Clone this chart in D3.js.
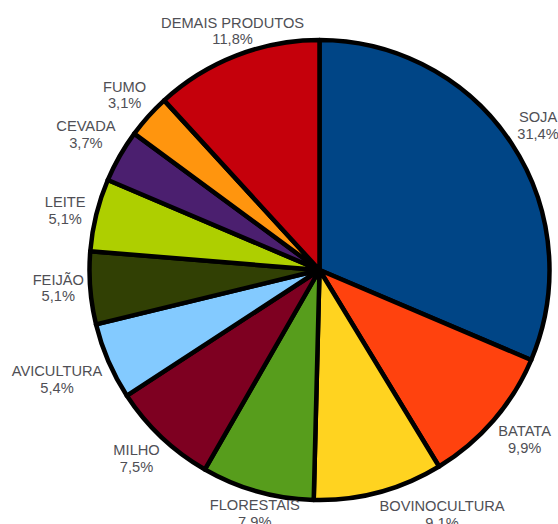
<!DOCTYPE html>
<html>
<head>
<meta charset="utf-8">
<script src="https://cdn.jsdelivr.net/npm/d3@7"></script>
<style>
  body { margin: 0; background: #fff; }
  svg { display: block; }
</style>
</head>
<body>
<div id="chart"></div>
<script>
// slices, clockwise from 12 o'clock
const categories = ['SOJA', 'BATATA', 'BOVINOCULTURA', 'FLORESTAIS', 'MILHO', 'AVICULTURA',
  'FEIJÃO', 'LEITE', 'CEVADA', 'FUMO', 'DEMAIS PRODUTOS'];
const shares = [31.4, 9.9, 9.1, 7.9, 7.5, 5.4, 5.1, 5.1, 3.7, 3.1, 11.8];
const colours = ['#004586', '#ff420e', '#ffd320', '#579d1c', '#7e0021', '#83caff',
  '#314004', '#aecf00', '#4b1f6f', '#ff950e', '#c5000b'];

const width = 558, height = 524;
const cx = 319.5, cy = 270, radius = 230;
const labelRadius = 262;
// small hand tweaks where the labels sit off the plain radial spot
const labelNudge = {
  'DEMAIS PRODUTOS': [8, 5],
  'CEVADA': [-6, -6],
  'LEITE': [0, 3],
  'FEIJÃO': [0, -3],
  'AVICULTURA': [-22, 5],
  'MILHO': [-3, -2],
  'FLORESTAIS': [6, -9],
  'BOVINOCULTURA': [55, -9],
  'BATATA': [7, -2]
};

const data = categories.map((c, i) => ({ name: c, value: shares[i] }));

const svg = d3.select('#chart').append('svg')
  .attr('width', width)
  .attr('height', height);

const chart = svg.append('g')
  .attr('transform', `translate(${cx},${cy})`);

const colour = d3.scaleOrdinal().domain(categories).range(colours);

const pie = d3.pie().sort(null).value(d => d.value);
const arc = d3.arc().innerRadius(0).outerRadius(radius);
const labelArc = d3.arc().innerRadius(labelRadius).outerRadius(labelRadius);

const arcs = pie(data);

chart.selectAll('.slice')
  .data(arcs)
  .join('path')
  .attr('class', 'slice')
  .attr('d', arc)
  .attr('fill', d => colour(d.data.name))
  .attr('stroke', '#000')
  .attr('stroke-width', 4.5)
  .attr('stroke-linejoin', 'round');

const fmt = v => d3.format('.1f')(v).replace('.', ',') + '%';

const labels = chart.selectAll('.label')
  .data(arcs)
  .join('text')
  .attr('class', 'label')
  .attr('transform', d => {
    const [x, y] = labelArc.centroid(d);
    const n = labelNudge[d.data.name] || [0, 0];
    return `translate(${x + n[0]},${y + n[1]})`;
  })
  .style('text-anchor', 'middle')
  .style('font-family', '"Liberation Sans", Arial, sans-serif')
  .style('font-size', '14.67px')
  .attr('fill', '#4f4f55');

labels.append('tspan')
  .attr('x', 0)
  .attr('y', -3)
  .text(d => d.data.name);

labels.append('tspan')
  .attr('x', 0)
  .attr('y', 13.5)
  .text(d => fmt(d.data.value));
</script>
</body>
</html>
